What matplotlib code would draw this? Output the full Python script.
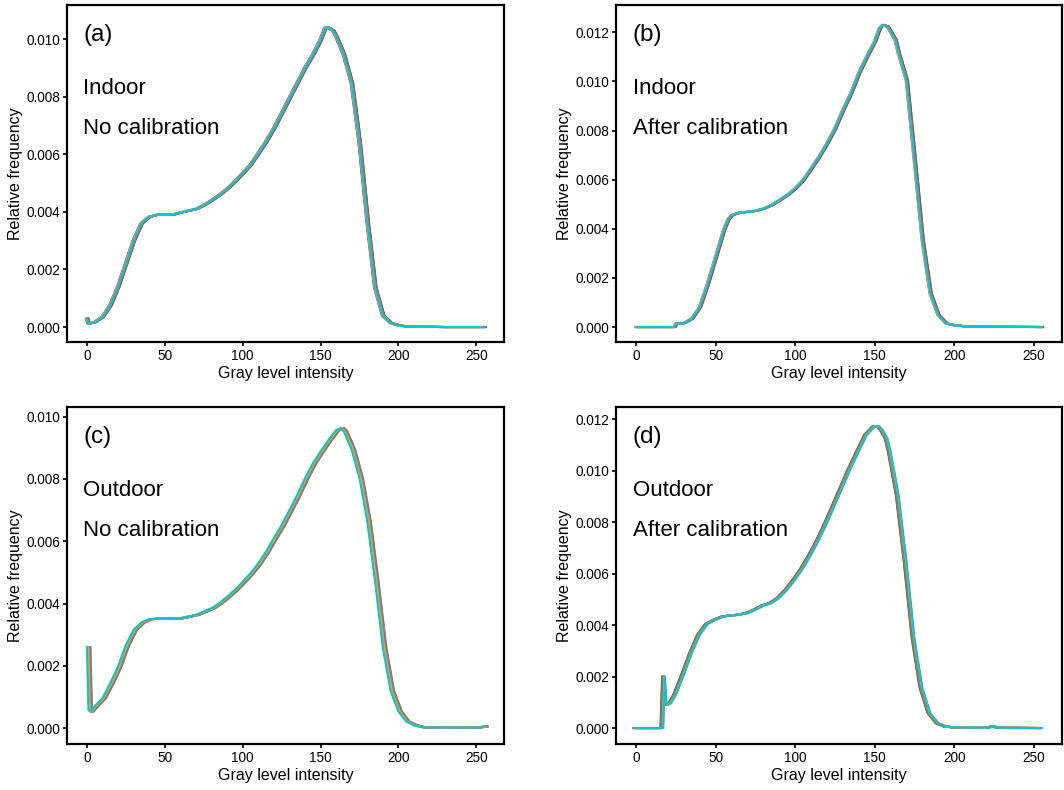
import numpy as np
import matplotlib
matplotlib.use("Agg")
import matplotlib.pyplot as plt
from matplotlib.ticker import FormatStrFormatter, MultipleLocator

plt.rcParams["font.family"] = ["Liberation Sans", "DejaVu Sans"]

# --- data (gray level, relative frequency) ---
gray_a = [0, 1, 5, 10, 15, 20, 25, 30, 35, 40, 45, 50, 55, 60, 65, 70, 75, 80, 85, 90,
          95, 100, 105, 110, 115, 120, 125, 130, 135, 140, 145, 150, 153, 155, 158, 160,
          165, 170, 175, 180, 185, 190, 195, 200, 205, 210, 230, 255]
freq_a = [0.00029, 0.00012, 0.00017, 0.00035, 0.00075, 0.0014, 0.0022, 0.0030, 0.0036,
          0.00383, 0.0039, 0.0039, 0.0039, 0.00398, 0.00404, 0.0041, 0.00423, 0.0044,
          0.00458, 0.0048, 0.00505, 0.00534, 0.00563, 0.00603, 0.00644, 0.0069, 0.00742,
          0.00795, 0.00847, 0.0090, 0.00945, 0.00998, 0.0104, 0.0104, 0.0103, 0.0101,
          0.00945, 0.00847, 0.0064, 0.0037, 0.00137, 0.0004, 0.00014, 0.00006, 0.00002,
          0.00001, 0.0, 0.0]

gray_b = [0, 24, 25, 30, 35, 40, 45, 50, 55, 58, 60, 65, 70, 75, 80, 85, 90, 95, 100,
          105, 110, 115, 120, 125, 130, 135, 140, 145, 150, 153, 155, 158, 160, 163, 165,
          170, 175, 180, 185, 190, 195, 200, 210, 255]
freq_b = [0.0, 0.0, 0.00014, 0.00016, 0.00034, 0.00082, 0.00177, 0.00285, 0.00394,
          0.0044, 0.00455, 0.00466, 0.00469, 0.00473, 0.00482, 0.00496, 0.00516, 0.00537,
          0.00564, 0.00598, 0.00645, 0.00693, 0.00747, 0.00808, 0.00883, 0.00951, 0.01033,
          0.0110, 0.01162, 0.01216, 0.0123, 0.01223, 0.01202, 0.01168, 0.01114, 0.01005,
          0.0068, 0.00353, 0.00136, 0.00048, 0.00014, 0.00007, 0.00001, 0.0]

gray_c = [0, 1, 2, 5, 10, 15, 20, 25, 30, 35, 40, 45, 50, 55, 60, 65, 70, 75, 80, 85,
          90, 95, 100, 105, 110, 115, 120, 125, 130, 135, 140, 145, 150, 155, 160, 163,
          165, 170, 175, 180, 185, 190, 195, 200, 205, 210, 215, 230, 250, 255]
freq_c = [0.0026, 0.00059, 0.00053, 0.0007, 0.00096, 0.00144, 0.00198, 0.00267, 0.00316,
          0.00339, 0.0035, 0.00351, 0.00353, 0.00351, 0.00353, 0.00358, 0.00364, 0.00374,
          0.00385, 0.00401, 0.00422, 0.00444, 0.0047, 0.00497, 0.00529, 0.00567, 0.0061,
          0.00652, 0.0070, 0.00749, 0.00802, 0.0085, 0.00888, 0.00925, 0.00957, 0.00963,
          0.00952, 0.00893, 0.00802, 0.00663, 0.0047, 0.00257, 0.00118, 0.00053, 0.00021,
          0.00009, 0.00003, 0.00002, 0.00002, 0.00005]

gray_d = [0, 17, 18, 19, 20, 22, 25, 30, 35, 40, 45, 50, 55, 60, 65, 70, 75, 80, 85, 90,
          95, 100, 105, 110, 115, 120, 125, 130, 135, 140, 145, 148, 150, 153, 155, 158,
          160, 165, 170, 175, 180, 185, 190, 195, 200, 222, 225, 228, 255]
freq_d = [0.0, 0.0, 0.0020, 0.00103, 0.0009, 0.00097, 0.00129, 0.00207, 0.00291, 0.00362,
          0.00404, 0.0042, 0.00433, 0.00437, 0.0044, 0.00446, 0.00459, 0.00475, 0.00485,
          0.00505, 0.00537, 0.00576, 0.00621, 0.00673, 0.00731, 0.00796, 0.00867, 0.00938,
          0.01009, 0.01074, 0.01138, 0.01158, 0.01171, 0.01171, 0.01158, 0.01125, 0.01074,
          0.00906, 0.00647, 0.00349, 0.00155, 0.00058, 0.00019, 0.00006, 0.00003, 0.00001,
          0.00008, 0.00001, 0.0]

# per-image gray-level spread seen between the ten overlaid curves
shift_a = [0.6, -0.4, 0.9, -0.7, 0.3, 1.0, -0.5, 0.5, -0.2, 0.0]
shift_b = [0.4, -0.5, 0.8, -0.3, 0.6, 0.9, -0.6, 0.2, -0.2, 0.0]
shift_c = [1.4, 0.8, 1.8, 0.5, 1.1, 2.0, 1.5, 2.3, 0.7, 0.0]
shift_d = [-1.2, -0.6, -1.6, -0.4, -1.0, -1.8, -0.8, -1.4, -0.3, 0.0]

panel_tags = ["(a)", "(b)", "(c)", "(d)"]
scenes = ["Indoor", "Indoor", "Outdoor", "Outdoor"]
states = ["No calibration", "After calibration", "No calibration", "After calibration"]
y_tops = [0.010, 0.012, 0.010, 0.012]
y_lims = [(-0.00052, 0.01119), (-0.00061, 0.01311), (-0.00051, 0.01031), (-0.00062, 0.01247)]

W, H = 1064, 790
boxes = [(67, 5, 437, 337), (616, 5, 446, 337), (67, 407, 437, 337), (616, 407, 446, 337)]
series = [(gray_a, freq_a, shift_a), (gray_b, freq_b, shift_b),
          (gray_c, freq_c, shift_c), (gray_d, freq_d, shift_d)]
colors = plt.rcParams["axes.prop_cycle"].by_key()["color"]

fig = plt.figure(figsize=(W / 100, H / 100), dpi=100)

for i, (left, top, w, h) in enumerate(boxes):
    ax = fig.add_axes([left / W, (H - top - h) / H, w / W, h / H])
    gx, gy, shifts = series[i]
    gx = np.array(gx, dtype=float)
    for k, s in enumerate(shifts):
        ax.plot(gx + s, gy, color=colors[k % 10], lw=1.5)

    ax.set_xlim(-12.75, 267.75)
    ax.set_ylim(*y_lims[i])
    ax.xaxis.set_major_locator(MultipleLocator(50))
    ax.set_yticks(np.arange(0, y_tops[i] + 1e-9, 0.002))
    ax.yaxis.set_major_formatter(FormatStrFormatter("%.3f"))
    ax.tick_params(direction="out", length=3, width=1.2, pad=2, labelsize=9.8)
    for sp in ax.spines.values():
        sp.set_linewidth(1.6)
    ax.set_xlabel("Gray level intensity", fontsize=11.5, labelpad=2)
    ax.set_ylabel("Relative frequency", fontsize=11.5, labelpad=2.5)

    ax.text(0.037, 0.912, panel_tags[i], transform=ax.transAxes, fontsize=17.5,
            ha="left", va="center")
    ax.text(0.037, 0.752, scenes[i], transform=ax.transAxes, fontsize=16,
            ha="left", va="center")
    ax.text(0.037, 0.633, states[i], transform=ax.transAxes, fontsize=16,
            ha="left", va="center")

fig.savefig("out.png", dpi=100)
